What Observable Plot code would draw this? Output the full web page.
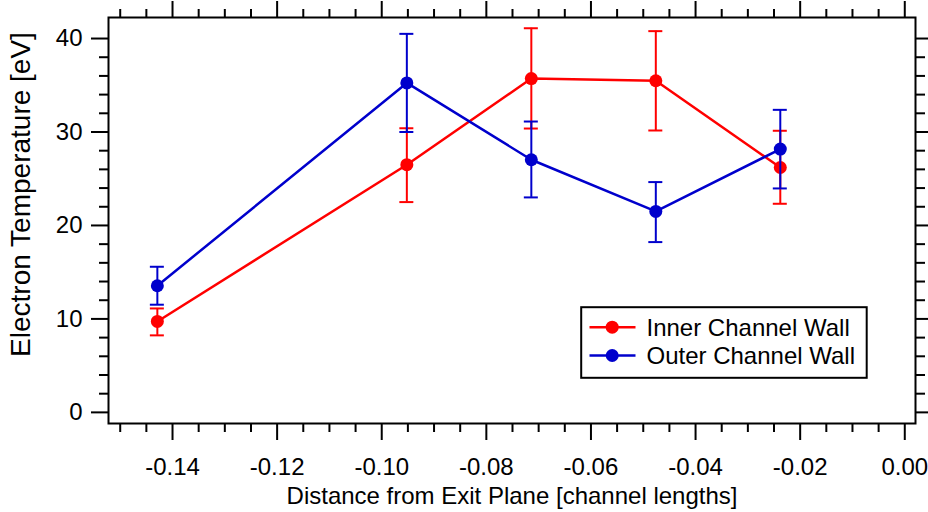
<!DOCTYPE html>
<html>
<head>
<meta charset="utf-8">
<script src="https://cdn.jsdelivr.net/npm/d3@7"></script>
<script src="https://cdn.jsdelivr.net/npm/@observablehq/plot@0.6"></script>
<style>
  body { margin: 0; background: #fff; }
  #wrap { position: relative; width: 928px; height: 512px; }
  #legend { position: absolute; left: 579.5px; top: 305.5px; }
</style>
</head>
<body>
<div id="wrap"></div>
<script>
// ---- data ----
const positions = [-0.1429, -0.0952, -0.0714, -0.0476, -0.0238]; // channel lengths
const innerTe   = [9.73, 26.5, 35.72, 35.48, 26.2];
const innerLow  = [8.24, 22.5, 30.37, 30.16, 22.32];
const innerHigh = [11.12, 30.4, 41.1, 40.79, 30.13];
const outerTe   = [13.55, 35.25, 27.03, 21.5, 28.17];
const outerLow  = [11.52, 30.0, 23.0, 18.22, 23.96];
const outerHigh = [15.58, 40.5, 31.12, 24.64, 32.37];
const seriesNames = ["Inner Channel Wall", "Outer Channel Wall"];
const seriesColors = ["#ff0000", "#0000cc"];
const xMajorTicks = [-0.14, -0.12, -0.10, -0.08, -0.06, -0.04, -0.02, 0.00];
const yMajorTicks = [0, 10, 20, 30, 40];
const xTitle = "Distance from Exit Plane [channel lengths]";
const yTitle = "Electron Temperature [eV]";

const xMinorTicks = d3.range(0, 31).map(i => -0.15 + i * 0.005)
  .filter(v => !xMajorTicks.some(t => Math.abs(t - v) < 1e-6));
const yMinorTicks = d3.range(0, 21).map(i => i * 2).filter(v => v % 10 !== 0);

const toRows = (vals, lo, hi, name) => positions.map((x, i) => ({x, y: vals[i], lo: lo[i], hi: hi[i], name}));
const inner = toRows(innerTe, innerLow, innerHigh, seriesNames[0]);
const outer = toRows(outerTe, outerLow, outerHigh, seriesNames[1]);

const font = '"Liberation Sans", Arial, Helvetica, sans-serif';
const xFmt = d => d.toFixed(2);
const blank = () => "";

function seriesMarks(rows, color) {
  return [
    Plot.ruleX(rows, {x: "x", y1: "lo", y2: "hi", stroke: color, strokeWidth: 2}),
    Plot.ruleY(rows, {y: "lo", x1: "x", x2: "x", insetLeft: -7, insetRight: -7, stroke: color, strokeWidth: 2}),
    Plot.ruleY(rows, {y: "hi", x1: "x", x2: "x", insetLeft: -7, insetRight: -7, stroke: color, strokeWidth: 2}),
    Plot.line(rows, {x: "x", y: "y", stroke: color, strokeWidth: 2.5}),
    Plot.dot(rows, {x: "x", y: "y", r: 6.5, fill: color, stroke: "none"})
  ];
}

const chart = Plot.plot({
  width: 928,
  height: 512,
  marginTop: 17,
  marginRight: 13,
  marginBottom: 89,
  marginLeft: 108,
  style: {fontFamily: font, fontSize: "24px", color: "#000", background: "#fff"},
  x: {domain: [-0.15224, 0.00205], axis: null},
  y: {domain: [-1.19, 42.25], axis: null},
  marks: [
    ...seriesMarks(inner, seriesColors[0]),
    ...seriesMarks(outer, seriesColors[1]),
    Plot.frame({stroke: "#000", strokeWidth: 2}),
    Plot.axisX(xMajorTicks, {anchor: "bottom", tickSize: 17, tickPadding: 17, tickFormat: xFmt, strokeWidth: 2,
      label: xTitle, labelAnchor: "center", labelArrow: "none", labelOffset: 80}),
    Plot.axisX(xMinorTicks, {anchor: "bottom", tickSize: 9, tickFormat: blank, strokeWidth: 2, label: null}),
    Plot.axisX(xMajorTicks, {anchor: "top", tickSize: 17, tickFormat: blank, strokeWidth: 2, label: null}),
    Plot.axisX(xMinorTicks, {anchor: "top", tickSize: 9, tickFormat: blank, strokeWidth: 2, label: null}),
    Plot.axisY(yMajorTicks, {anchor: "left", tickSize: 17, tickPadding: 9, tickFormat: d => String(d), strokeWidth: 2, label: null}),
    Plot.axisY(yMinorTicks, {anchor: "left", tickSize: 9, tickFormat: blank, strokeWidth: 2, label: null}),
    Plot.axisY(yMajorTicks, {anchor: "right", tickSize: 17, tickFormat: blank, strokeWidth: 2, label: null}),
    Plot.axisY(yMinorTicks, {anchor: "right", tickSize: 9, tickFormat: blank, strokeWidth: 2, label: null}),
    Plot.text([yTitle], {frameAnchor: "left", rotate: -90, dx: -87, dy: -26, fontSize: 28, textAnchor: "middle", lineAnchor: "middle", fill: "#000"})
  ]
});

const wrap = document.getElementById("wrap");
wrap.appendChild(chart);

// legend (inside the plot frame, lower right)
const ns = "http://www.w3.org/2000/svg";
const leg = document.createElementNS(ns, "svg");
leg.setAttribute("id", "legend");
leg.setAttribute("width", 289);
leg.setAttribute("height", 74);
const box = document.createElementNS(ns, "rect");
Object.entries({x: 1.2, y: 1.2, width: 285.5, height: 70.6, fill: "#fff", stroke: "#000", "stroke-width": 2})
  .forEach(([k, v]) => box.setAttribute(k, v));
leg.appendChild(box);
seriesNames.forEach((name, i) => {
  const cy = 21.2 + i * 28.3;
  const ln = document.createElementNS(ns, "line");
  Object.entries({x1: 9.5, x2: 55.5, y1: cy, y2: cy, stroke: seriesColors[i], "stroke-width": 2.5})
    .forEach(([k, v]) => ln.setAttribute(k, v));
  leg.appendChild(ln);
  const c = document.createElementNS(ns, "circle");
  Object.entries({cx: 32.2, cy: cy, r: 6.5, fill: seriesColors[i]}).forEach(([k, v]) => c.setAttribute(k, v));
  leg.appendChild(c);
  const t = document.createElementNS(ns, "text");
  Object.entries({x: 66.5, y: cy + 8.5, "font-family": font, "font-size": 24, fill: "#000"})
    .forEach(([k, v]) => t.setAttribute(k, v));
  t.textContent = name;
  leg.appendChild(t);
});
wrap.appendChild(leg);
</script>
</body>
</html>
